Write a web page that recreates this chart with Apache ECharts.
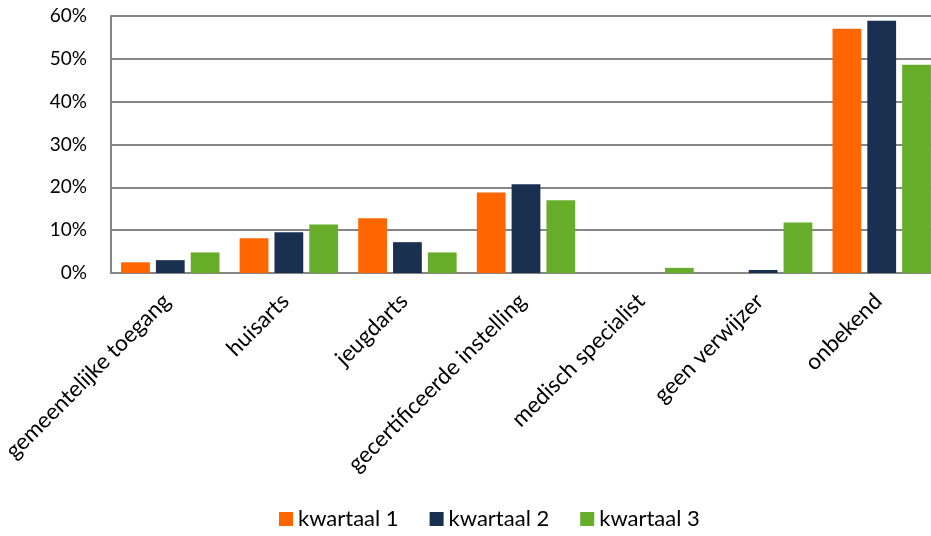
<!DOCTYPE html>
<html>
<head>
<meta charset="utf-8">
<script src="https://cdn.jsdelivr.net/npm/echarts@6/dist/echarts.min.js"></script>
<style>html,body{margin:0;padding:0;background:#fff}#c{width:931px;height:536px}</style>
</head>
<body>
<div id="c"></div>
<script>
const categories = ['gemeentelijke toegang','huisarts','jeugdarts','gecertificeerde instelling','medisch specialist','geen verwijzer','onbekend'];
const seriesNames = ['kwartaal 1','kwartaal 2','kwartaal 3'];
const kwartaal1 = [2.5, 8.1, 12.8, 18.8, 0, 0, 57.0];
const kwartaal2 = [3.0, 9.5, 7.2, 20.7, 0, 0.7, 58.9];
const kwartaal3 = [4.8, 11.3, 4.8, 17.0, 1.2, 11.8, 48.6];
const colors = ['#ff6600','#1a3050','#66ae2a'];
const font = 'Lato, "Open Sans", sans-serif';

const chart = echarts.init(document.getElementById('c'));
const data = [kwartaal1, kwartaal2, kwartaal3];
chart.setOption({
  animation: false,
  textStyle: {fontFamily: font},
  grid: {left: 111, width: 830, top: 16, height: 257, containLabel: false, outerBoundsMode: 'none'},
  legend: {
    bottom: 1, left: 274, itemWidth: 14, itemHeight: 14, itemGap: 31,
    icon: 'rect',
    textStyle: {fontFamily: font, fontSize: 22, color: '#000'},
    data: seriesNames
  },
  xAxis: {
    type: 'category', data: categories,
    axisLine: {lineStyle: {color: '#868686', width: 2}},
    axisTick: {show: false},
    axisLabel: {rotate: 45, interval: 0, fontSize: 22.5, color: '#000', margin: 21, padding: [8, 5, 0, 0], fontFamily: font}
  },
  yAxis: {
    type: 'value', min: 0, max: 60, interval: 10,
    axisLine: {show: true, lineStyle: {color: '#868686', width: 2}},
    axisTick: {show: false},
    splitLine: {lineStyle: {color: '#868686', width: 2}},
    axisLabel: {formatter: '{value}%', fontSize: 19, color: '#000', margin: 24, fontFamily: font}
  },
  series: data.map((d, i) => ({
    name: seriesNames[i], type: 'bar', data: d,
    barGap: '21%', barCategoryGap: '17%',
    itemStyle: {color: colors[i]}
  }))
});
</script>
</body>
</html>
